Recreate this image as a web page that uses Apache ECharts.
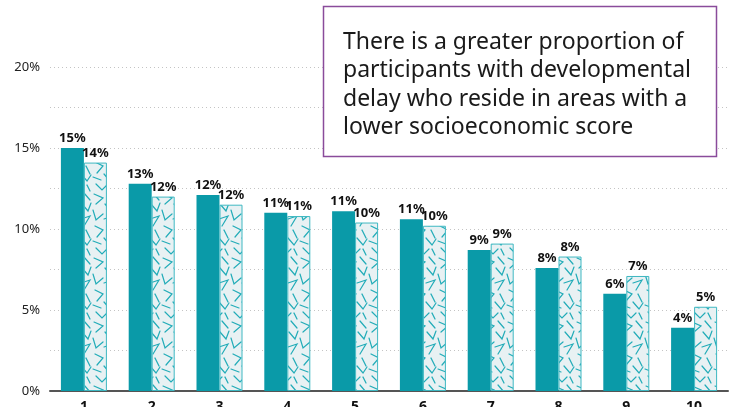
<!DOCTYPE html>
<html>
<head>
<meta charset="utf-8">
<script src="https://cdn.jsdelivr.net/npm/echarts@6/dist/echarts.min.js"></script>
<style>
  html, body { margin: 0; padding: 0; background: #fff; }
  #chart { width: 736px; height: 407px; }
</style>
</head>
<body>
<div id="chart"></div>
<script>
// Socioeconomic score deciles (1 = lowest)
const deciles = ['1', '2', '3', '4', '5', '6', '7', '8', '9', '10'];
// Share of participants with developmental delay, per decile (%)
const delayShare = [15.0, 12.8, 12.1, 11.0, 11.1, 10.6, 8.7, 7.6, 6.0, 3.9];
// Share of all participants, per decile (%)
const allShare = [14.1, 12.0, 11.5, 10.8, 10.4, 10.2, 9.1, 8.3, 7.1, 5.2];
// Value axis ticks (%)
const yTicks = [0, 5, 10, 15, 20];

const noteText = 'There is a greater proportion of\nparticipants with developmental\ndelay who reside in areas with a\nlower socioeconomic score';

// Hatched texture: light fill with scattered teal chevrons
function makeTexture() {
  const c = document.createElement('canvas');
  c.width = 23; c.height = 64;
  const g = c.getContext('2d');
  g.fillStyle = '#e8f1f3';
  g.fillRect(0, 0, c.width, c.height);
  g.strokeStyle = '#22acb8';
  g.lineWidth = 1.2;
  g.lineCap = 'round';
  const marks = [
    [[2, 2], [11, 6], [4, 12]],
    [[15, 1], [21, 8]],
    [[13, 12], [19, 19], [22, 11]],
    [[1, 18], [4, 28], [11, 22]],
    [[12, 27], [21, 24], [15, 34]],
    [[3, 34], [11, 38], [5, 45]],
    [[17, 38], [21, 46]],
    [[12, 46], [18, 53], [22, 47]],
    [[1, 49], [9, 52]],
    [[4, 56], [10, 62], [15, 57]],
    [[18, 57], [21, 63]]
  ];
  marks.forEach(m => {
    g.beginPath();
    g.moveTo(m[0][0], m[0][1]);
    for (let i = 1; i < m.length; i++) g.lineTo(m[i][0], m[i][1]);
    g.stroke();
  });
  return c;
}

const chart = echarts.init(document.getElementById('chart'), null, { renderer: 'canvas' });

const labelStyle = {
  show: true,
  position: 'top',
  distance: 3,
  color: '#111',
  fontFamily: 'Noto Sans',
  fontWeight: 'bold',
  fontSize: 13,
  formatter: p => Math.round(p.value) + '%'
};

chart.setOption({
  animation: false,
  grid: { left: 50, right: 8, top: 67, bottom: 16, containLabel: false, outerBoundsMode: 'none' },
  xAxis: {
    type: 'category',
    data: deciles,
    axisLine: { lineStyle: { color: '#555', width: 2 } },
    axisTick: { show: false },
    axisLabel: {
      color: '#111', fontFamily: 'Noto Sans', fontWeight: 'bold', fontSize: 14,
      margin: 9
    }
  },
  yAxis: {
    type: 'value',
    min: yTicks[0],
    max: yTicks[yTicks.length - 1],
    interval: 2.5,
    axisLine: { show: false },
    axisTick: { show: false },
    axisLabel: {
      color: '#222', fontFamily: 'Noto Sans', fontSize: 13, margin: 10,
      formatter: v => (yTicks.indexOf(v) >= 0 ? v + '%' : '')
    },
    splitLine: { lineStyle: { color: '#c4c4c4', type: [1, 3], width: 1 } }
  },
  series: [
    {
      name: 'Developmental delay',
      type: 'bar',
      data: delayShare,
      barWidth: 23,
      barGap: '0%',
      itemStyle: { color: '#0a9aa8' },
      label: labelStyle
    },
    {
      name: 'All participants',
      type: 'bar',
      data: allShare,
      barWidth: 23,
      itemStyle: {
        color: { image: makeTexture(), repeat: 'repeat' },
        borderColor: '#3fb8c2',
        borderWidth: 1
      },
      label: labelStyle
    }
  ],
  graphic: [
    {
      type: 'rect',
      shape: { x: 323.5, y: 6.5, width: 393, height: 150 },
      style: { fill: '#fff', stroke: '#8a4b9b', lineWidth: 1.5 },
      z: 10
    },
    {
      type: 'text',
      x: 343,
      y: 28,
      z: 11,
      style: {
        text: noteText,
        fill: '#1a1a1a',
        font: '23px "Noto Sans"',
        lineHeight: 28.5
      }
    }
  ]
});
</script>
</body>
</html>
